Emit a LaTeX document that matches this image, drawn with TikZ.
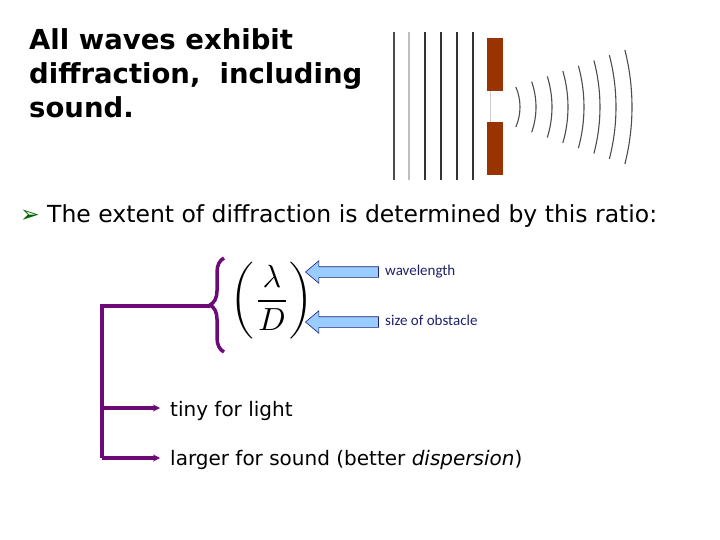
\documentclass[tikz,border=0pt]{standalone}
\usepackage{fontspec}
\usepackage{graphicx}
\setmainfont{DejaVu Sans}
\newfontfamily\calib{Carlito}
\usetikzlibrary{shapes.arrows,decorations.pathreplacing,arrows.meta}
\definecolor{purp}{HTML}{6E0A78}
\definecolor{brick}{HTML}{993300}
\definecolor{lblue}{HTML}{99CCFF}
\definecolor{navy}{HTML}{1F1F6E}
\begin{document}
\begin{tikzpicture}[x=1pt,y=-1pt,
  title/.style={font=\fontsize{27.5}{34}\selectfont\bfseries, anchor=north west, align=left, inner sep=0},
  body/.style={font=\fontsize{20}{24}\selectfont, anchor=west, inner sep=0},
  lbl/.style={font=\calib\fontsize{15}{16}\selectfont, text=navy, anchor=west, inner sep=0},
  fat/.style={single arrow, draw=navy, fill=lblue, line width=0.6pt, minimum height=73, inner xsep=0pt, inner ysep=5pt, single arrow head extend=6pt, single arrow tip angle=80, shape border rotate=180},
  purpline/.style={draw=purp, line width=3.5pt},
  wave/.style={draw=black!70, line width=1.1pt}]
\useasboundingbox (0,0) rectangle (720,540);
\node[title] (t) at (29,28) {All waves exhibit\\diffraction,\ \ including\\sound.};
% wave picture
\foreach \x/\c in {394/black!70,409/black!25,425/black!80,441/black!80,457/black!80,473/black!80}
  \draw[draw=\c, line width=1.2pt] (\x,32) -- (\x,180);
\fill[brick] (487,38) rectangle (503,91);
\fill[brick] (487,122) rectangle (503,175);
\draw[black!20, line width=0.6pt] (490,91) -- (490,122);
\foreach \i in {0,...,7}{
  \pgfmathsetmacro{\r}{50+26*\i}
  \pgfmathsetmacro{\h}{20+5.3*\i}
  \pgfmathsetmacro{\a}{asin(\h/\r)}
  \pgfmathsetmacro{\cx}{520+16*\i-\r}
  \draw[wave] ({\cx+\r*cos(\a)},{107-\h}) arc[start angle=-\a, end angle=\a, radius=\r];
}
\node[body, font=\fontsize{23.5}{28}\selectfont, text=green!40!black] (b) at (20,216) {➢};
\node[body, font=\fontsize{23.5}{28}\selectfont] (s) at (47,216) {The extent of diffraction is determined by this ratio:};
% formula
\node[inner sep=0] (f) at (272,301) {\scalebox{3.2}{$\left(\displaystyle\frac{\lambda}{D}\right)$}};
\draw[purpline, decorate, decoration={brace, amplitude=14pt}] (224,352) -- (224,258);
\coordinate (bt) at (210,306);
\node[fat, anchor=tip] (a1) at (305,272) {};
\node[fat, anchor=tip] (a2) at (305,322) {};
\node[lbl] (l1) at (385,272) {wavelength};
\node[lbl] (l2) at (385,320) {size of obstacle};
\node[body] (x1) at (170,411) {tiny for light};
\node[body] (x2) at (170,460) {larger for sound (better \textit{dispersion})};
\coordinate (c0) at (102,306);
\coordinate (c1) at (102,408);
\coordinate (c2) at (102,458);
\draw[purpline] (bt) -- (c0) -- (c2);
\draw[purpline, -{Stealth[length=7pt,width=7pt]}] (c1) -- (160,408);
\draw[purpline, -{Stealth[length=7pt,width=7pt]}] (c2) -- (160,458);
\end{tikzpicture}
\end{document}
